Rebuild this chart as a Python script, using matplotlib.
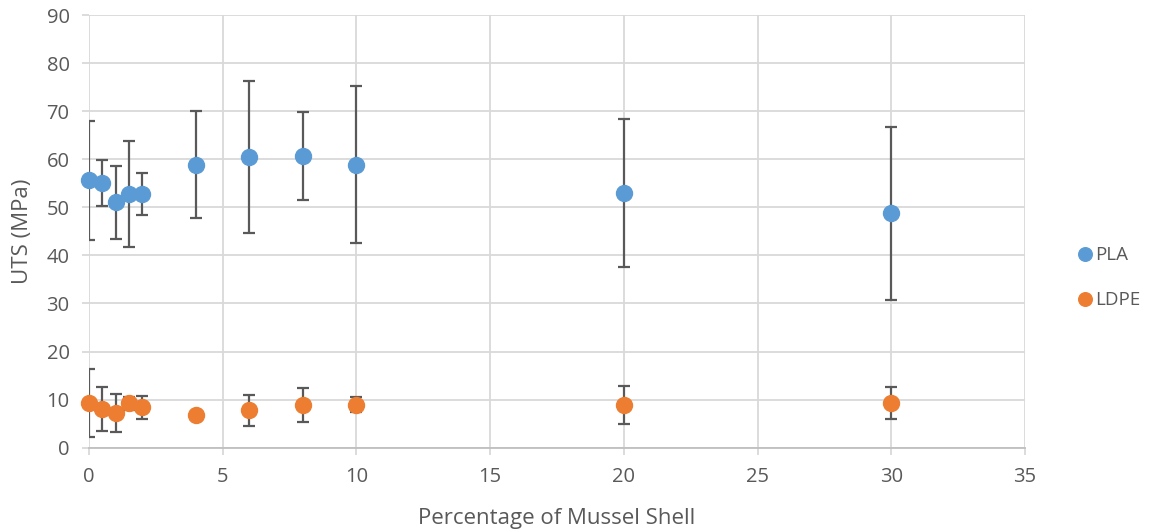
import matplotlib.pyplot as plt
import numpy as np

# UTS vs mussel shell content, mean and standard deviation
shell_pct = [0, 0.5, 1, 1.5, 2, 4, 6, 8, 10, 20, 30]
pla_mean = [55.6, 55.1, 51.0, 52.7, 52.8, 58.9, 60.5, 60.7, 58.9, 52.9, 48.8]
pla_std = [12.3, 4.8, 7.6, 11.0, 4.4, 11.1, 15.8, 9.1, 16.3, 15.4, 18.0]
ldpe_mean = [9.3, 8.1, 7.2, 9.2, 8.4, 6.8, 7.8, 8.9, 8.9, 8.9, 9.3]
ldpe_std = [7.1, 4.6, 4.0, 1.4, 2.35, 0.5, 3.2, 3.5, 1.55, 3.9, 3.3]

txt = '#595959'
grid = '#d9d9d9'
plt.rcParams['font.family'] = ['Open Sans', 'DejaVu Sans']

fig = plt.figure(figsize=(11.53, 5.32), dpi=100)
ax = fig.add_axes([0.0772, 0.1585, 0.8118, 0.8133])

series = [(pla_mean, pla_std, '#5b9bd5', 'PLA'),
          (ldpe_mean, ldpe_std, '#ed7d31', 'LDPE')]
for mean, std, col, lab in series:
    ax.errorbar(shell_pct, mean, yerr=std, fmt='none', ecolor='#595959',
                elinewidth=1.6, capsize=4.5, capthick=1.6, zorder=2)
    ax.plot(shell_pct, mean, 'o', color=col, markersize=11.5, label=lab,
            zorder=3, clip_on=False)

ax.set_xlim(0, 35)
ax.set_ylim(0, 90)
ax.set_xticks(np.arange(0, 36, 5))
ax.set_yticks(np.arange(0, 91, 10))
ax.grid(True, color=grid, linewidth=1.3)
ax.set_axisbelow(True)
for s in ['top', 'right', 'left']:
    ax.spines[s].set_visible(False)
ax.spines['bottom'].set_color('#bfbfbf')
ax.spines['bottom'].set_linewidth(1.3)
ax.tick_params(axis='both', colors=grid, labelcolor=txt, labelsize=14.5,
               length=5, width=1.3)
ax.tick_params(axis='x', pad=9)
ax.tick_params(axis='y', pad=9)

ax.set_xlabel('Percentage of Mussel Shell', fontsize=16, color=txt, labelpad=15)
ax.set_ylabel('UTS (MPa)', fontsize=16, color=txt, labelpad=10)

fig.legend(loc='center left', bbox_to_anchor=(0.918, 0.478), frameon=False,
           fontsize=13.5, labelcolor=txt, handletextpad=0.05, labelspacing=1.45,
           markerscale=0.85, handlelength=1.0)

fig.savefig('out.png', dpi=100)
